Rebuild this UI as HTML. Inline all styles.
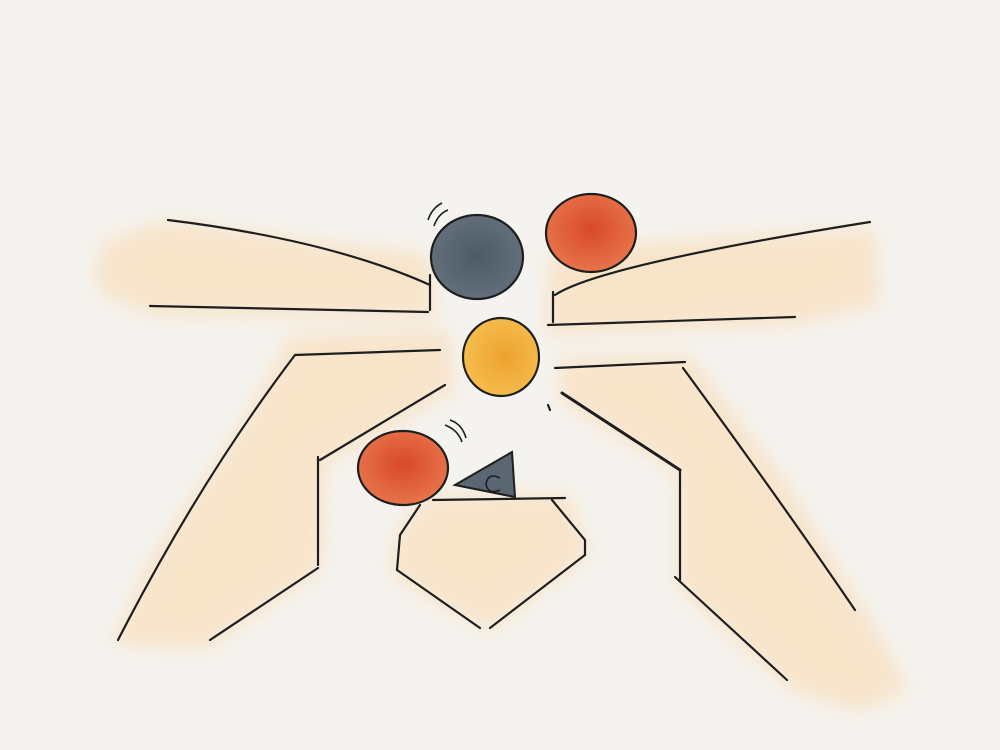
<!DOCTYPE html>
<html><head><meta charset="utf-8"><style>
html,body{margin:0;padding:0;background:#f4f3ef;}
svg{display:block}
</style></head><body>
<svg width="1000" height="750" viewBox="0 0 1000 750">
<defs>
<filter id="blur" x="-20%" y="-20%" width="140%" height="140%"><feGaussianBlur stdDeviation="10"/></filter>
<radialGradient id="gRed" cx="0.5" cy="0.45" r="0.6"><stop offset="0" stop-color="#d9492a"/><stop offset="1" stop-color="#e8784e"/></radialGradient>
<radialGradient id="gYel" cx="0.55" cy="0.5" r="0.6"><stop offset="0" stop-color="#eea22e"/><stop offset="1" stop-color="#f5c050"/></radialGradient>
<radialGradient id="gGray" cx="0.5" cy="0.5" r="0.6"><stop offset="0" stop-color="#4e5a66"/><stop offset="1" stop-color="#66727e"/></radialGradient>
</defs>
<rect width="1000" height="750" fill="#f4f3ef"/>
<g fill="#f9dfbd" opacity="0.75" filter="url(#blur)">
<polygon points="100,245 160,220 432,255 435,318 150,315 95,290"/>
<polygon points="550,250 700,238 875,228 880,305 800,325 545,335"/>
<polygon points="290,335 450,330 455,390 325,465 322,570 205,650 112,645 150,560 250,410"/>
<polygon points="560,358 690,355 785,480 865,610 910,690 860,712 790,690 678,588 678,472 560,402"/>
<polygon points="428,495 570,494 590,555 490,632 390,575 396,532"/>
</g>
<g fill="none" stroke="#1e1e1e" stroke-width="2.2" stroke-linecap="round">
<path d="M168,220 Q330,240 430,285"/>
<path d="M150,306 L428,312"/>
<path d="M430,275 L430,310"/>
<path d="M555,295 Q600,265 870,222"/>
<path d="M548,325 L795,317"/>
<path d="M553,292 L553,322"/>
<path d="M440,350 L295,355 Q200,480 118,640"/>
<path d="M445,385 L320,460"/>
<path d="M318,457 L318,565"/>
<path d="M318,568 L210,640"/>
<path d="M555,368 L685,362"/>
<path d="M683,368 Q780,500 855,610"/>
<path stroke-width="3" d="M562,393 L680,470"/>
<path d="M680,470 L680,580"/>
<path d="M675,577 L787,680"/>
<path d="M433,500 L565,498 M552,500 L585,540 L585,555 L490,628 M480,628 L397,570 L400,535 L420,505"/>
<path d="M548,405 L550,410"/>
</g>
<ellipse cx="477" cy="257" rx="46" ry="42" fill="url(#gGray)" stroke="#1e1e1e" stroke-width="2.2"/>
<path d="M428,220 Q432,208 442,203 M434,226 Q438,214 448,210" fill="none" stroke="#1e1e1e" stroke-width="1.6"/>
<ellipse cx="591" cy="233" rx="45" ry="39" fill="url(#gRed)" stroke="#1e1e1e" stroke-width="2.2"/>
<ellipse cx="501" cy="357" rx="38" ry="39" fill="url(#gYel)" stroke="#1e1e1e" stroke-width="2.2"/>
<ellipse cx="403" cy="468" rx="45" ry="37" fill="url(#gRed)" stroke="#1e1e1e" stroke-width="2.2"/>
<path d="M445,425 Q458,430 462,442 M450,420 Q462,424 466,438" fill="none" stroke="#1e1e1e" stroke-width="1.6"/>
<polygon points="455,485 512,452 515,497" fill="#5a6672" stroke="#1e1e1e" stroke-width="2"/>
<path d="M500,478 Q488,472 486,484 Q488,495 500,490" fill="none" stroke="#1e1e1e" stroke-width="1.6"/>
</svg>
</body></html>
